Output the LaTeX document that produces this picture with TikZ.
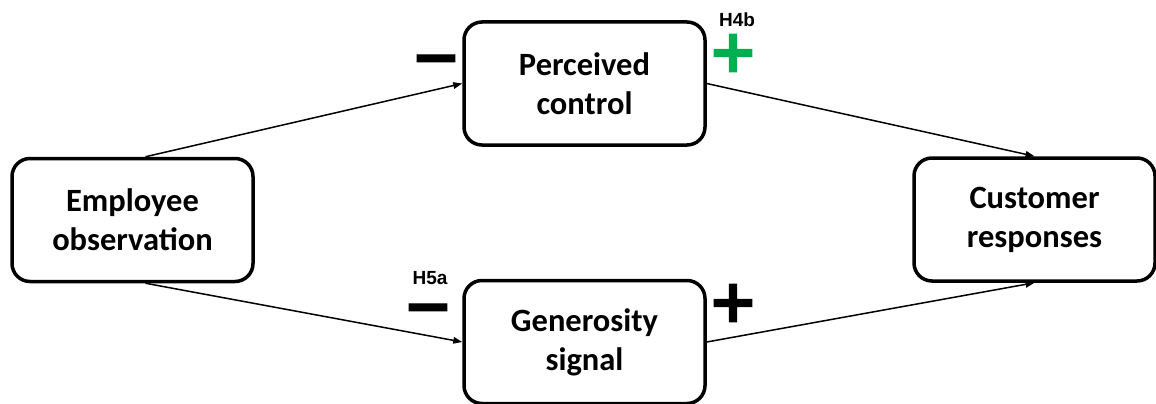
\documentclass[tikz,border=0pt]{standalone}
\usepackage{fontspec}
\setmainfont{Carlito}
\newfontfamily\hlabel{Liberation Sans}
\newfontfamily\signfont{DejaVu Sans}[BoldFeatures={FakeBold=2}]
\usetikzlibrary{arrows.meta}
\definecolor{pgreen}{RGB}{0,176,80}
\begin{document}
\begin{tikzpicture}[x=1pt,y=-1pt,
  box/.style={draw, line width=3.5pt, rounded corners=18pt, fill=white,
    minimum width=241pt, minimum height=123pt, inner sep=0pt, align=center,
    font=\fontsize{32.5}{39}\selectfont\bfseries},
  conn/.style={line width=1.5pt, -{Triangle[length=9pt,width=6.5pt]}},
  hyp/.style={inner sep=0pt, font=\hlabel\fontsize{19}{20}\selectfont\bfseries},
  sign/.style={inner sep=0pt, font=\signfont\fontsize{60}{60}\selectfont\bfseries}]
\useasboundingbox (0,0) rectangle (1156,404);
\node[box] (emp) at (132.5,220) {Employee\\observation};
\node[box] (pc) at (584.5,83.5) {Perceived\\control};
\node[box] (gs) at (584.5,342) {Generosity\\signal};
\node[box] (cr) at (1034.5,219.5) {Customer\\responses};
\draw[conn] ([xshift=13pt]emp.north) -- (pc.west);
\draw[conn] ([xshift=13pt]emp.south) -- (gs.west);
\draw[conn] (pc.east) -- (cr.north);
\draw[conn] (gs.east) -- (cr.south);
\node[sign] (m1) at (436,66) {−};
\node[sign, text=pgreen] (p1) at (733,53) {+};
\node[sign] (m2) at (428,315) {−};
\node[sign] (p2) at (733,303) {+};
\node[hyp] (h4b) at (737,19.5) {H4b};
\node[hyp] (h5a) at (430,278) {H5a};
\end{tikzpicture}
\end{document}
